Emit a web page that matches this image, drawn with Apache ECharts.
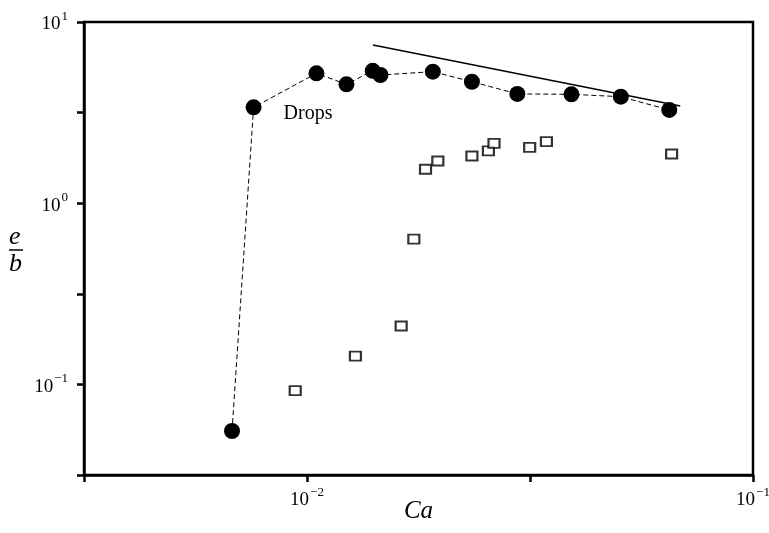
<!DOCTYPE html>
<html>
<head>
<meta charset="utf-8">
<script src="https://cdn.jsdelivr.net/npm/echarts@6/dist/echarts.min.js"></script>
<style>
  html, body { margin: 0; padding: 0; background: #fff; }
  #chart { width: 769px; height: 533px; }
</style>
</head>
<body>
<div id="chart"></div>
<script>
// Capillary number (Ca) and dimensionless extension e/b
const dropsCa = [0.00679, 0.00759, 0.0105, 0.01226, 0.01404, 0.01461, 0.01915, 0.02343, 0.02962, 0.03917, 0.05054, 0.0649];
const dropsEB = [0.0553, 3.38, 5.21, 4.53, 5.38, 5.10, 5.32, 4.68, 4.01, 3.99, 3.87, 3.27];

const openCa = [0.00941, 0.01284, 0.01626, 0.01736, 0.01844, 0.01965, 0.02343, 0.02551, 0.02626, 0.03157, 0.03442, 0.06569];
const openEB = [0.0923, 0.1434, 0.210, 0.634, 1.539, 1.71, 1.822, 1.942, 2.141, 2.035, 2.185, 1.868];

// Power-law guide line, slope -1/2 on log-log axes
const guideCa = [0.01406, 0.0687];
const guideEB = [7.46, 3.44];

const dropsLabel = 'Drops';
const dropsLabelIndex = 1;

// Axis extents (log10 of the bounds) and labelled decades
const xLogRange = [-2.5, -1];
const yLogRange = [-1.5, 1];

const serif = "'Liberation Serif', 'Times New Roman', serif";

function pairs(xs, ys) {
  return xs.map((x, i) => [x, ys[i]]);
}

function decadeLabel(value) {
  const k = Math.log10(value);
  const r = Math.round(k);
  if (Math.abs(k - r) > 1e-6) return '';
  const exp = r < 0 ? '\u2212' + Math.abs(r) : String(r);
  return '{b|10}{s|' + exp + '}';
}

const labelRich = {
  b: { fontFamily: serif, fontSize: 19, color: '#000', lineHeight: 24, verticalAlign: 'bottom' },
  s: { fontFamily: serif, fontSize: 13, color: '#000', lineHeight: 24, verticalAlign: 'top', padding: [0, 0, 9, 1] }
};

const axisCommon = {
  type: 'log',
  logBase: Math.sqrt(10),
  splitLine: { show: false },
  axisLine: { show: true, lineStyle: { color: '#000', width: 2.5 } },
  axisTick: { show: true, inside: false, length: 7, lineStyle: { color: '#000', width: 2.5 } },
  minorTick: { show: false }
};

const dropsData = pairs(dropsCa, dropsEB).map((p, i) => {
  if (i !== dropsLabelIndex) return p;
  return {
    value: p,
    label: {
      show: true,
      formatter: dropsLabel,
      position: 'right',
      offset: [17, 6],
      color: '#000',
      fontFamily: serif,
      fontSize: 20
    }
  };
});

const chart = echarts.init(document.getElementById('chart'), null, { renderer: 'canvas' });

chart.setOption({
  animation: false,
  backgroundColor: '#fff',
  grid: {
    left: 84, right: 16, top: 22, bottom: 58,
    containLabel: false,
    outerBoundsMode: 'none',
    show: true, borderColor: '#000', borderWidth: 2.5
  },
  xAxis: Object.assign({}, axisCommon, {
    min: Math.pow(10, xLogRange[0]),
    max: Math.pow(10, xLogRange[1]),
    name: 'Ca',
    nameLocation: 'middle',
    nameGap: 24,
    nameMoveOverlap: false,
    nameTextStyle: { fontFamily: serif, fontStyle: 'italic', fontSize: 25, color: '#000' },
    axisLabel: { margin: 11, formatter: decadeLabel, rich: labelRich, color: '#000' }
  }),
  yAxis: Object.assign({}, axisCommon, {
    min: Math.pow(10, yLogRange[0]),
    max: Math.pow(10, yLogRange[1]),
    axisLabel: { margin: 16, formatter: decadeLabel, rich: labelRich, color: '#000' }
  }),
  graphic: [
    { type: 'text', left: 9, top: 224, style: { text: 'e', font: 'italic 26px ' + serif, fill: '#000' } },
    { type: 'line', shape: { x1: 9, y1: 250, x2: 23, y2: 250 }, style: { stroke: '#000', lineWidth: 1.5 } },
    { type: 'text', left: 9, top: 251, style: { text: 'b', font: 'italic 26px ' + serif, fill: '#000' } }
  ],
  series: [
    {
      name: 'guide',
      type: 'line',
      data: pairs(guideCa, guideEB),
      showSymbol: false,
      symbol: 'none',
      lineStyle: { color: '#000', width: 1.4, type: 'solid' },
      z: 2
    },
    {
      name: dropsLabel,
      type: 'line',
      data: dropsData,
      symbol: 'circle',
      symbolSize: 16,
      itemStyle: { color: '#000' },
      lineStyle: { color: '#000', width: 1, type: [5, 3] },
      z: 3
    },
    {
      name: 'open',
      type: 'scatter',
      data: pairs(openCa, openEB),
      symbol: 'rect',
      symbolSize: [11, 9],
      itemStyle: { color: '#fff', borderColor: '#000', borderWidth: 2 },
      z: 4
    }
  ]
});
</script>
</body>
</html>
